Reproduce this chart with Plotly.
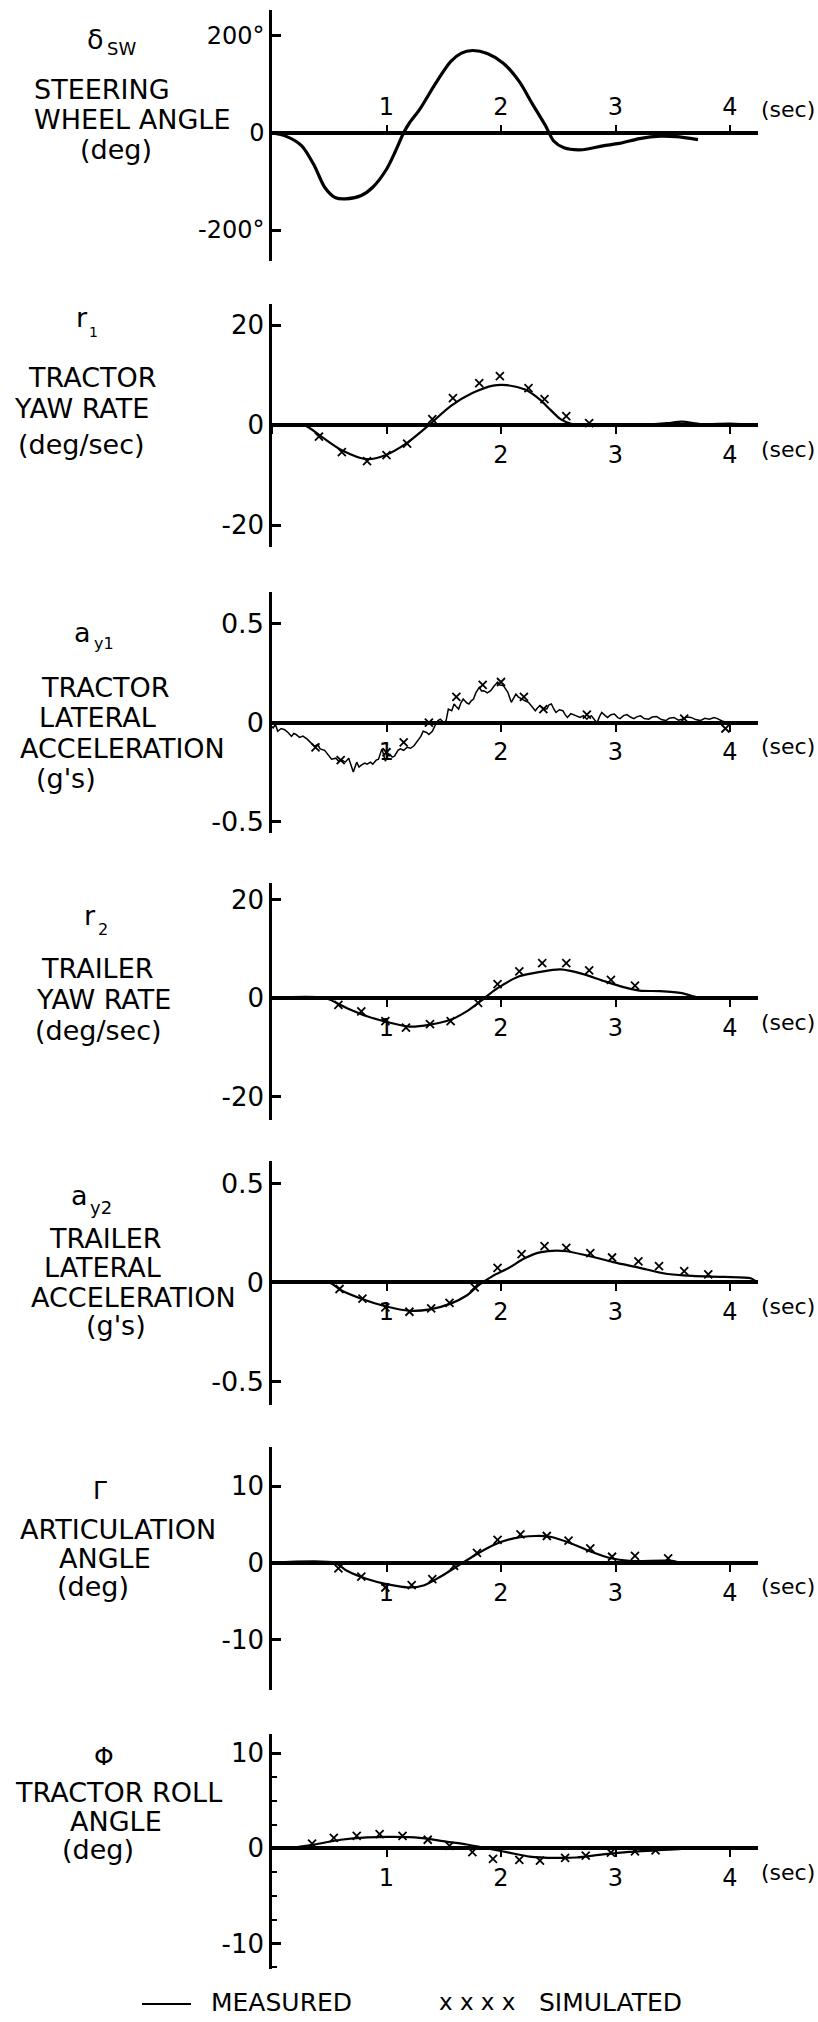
import plotly.graph_objects as go

# ---------------- data (time in seconds) ----------------
steer_t = [0, 0.12, 0.26, 0.37, 0.46, 0.55, 0.64, 0.78, 0.88, 1.0, 1.08, 1.15, 1.20, 1.29,
           1.43, 1.56, 1.65, 1.75, 1.88, 2.02, 2.16, 2.27, 2.39, 2.46, 2.55, 2.71, 2.89,
           3.03, 3.21, 3.39, 3.53, 3.72]
steer_deg = [0, -7, -27, -68, -112, -133, -136, -129, -112, -75, -37, 0, 20, 48,
             102, 146, 163, 169, 163, 143, 105, 61, 14, -17, -31, -35, -27,
             -22, -12, -7, -8, -14]

yaw1_t = [0, 0.28, 0.42, 0.61, 0.83, 0.99, 1.17, 1.38, 1.56, 1.75, 1.93, 2.05, 2.21,
          2.34, 2.43, 2.52, 2.62, 2.8, 3.2, 3.45, 3.58, 3.75, 4.0, 4.25]
yaw1_meas = [0, 0, -2.1, -5.0, -6.8, -6.0, -3.7, 0.2, 3.8, 6.4, 7.9, 8.0, 7.1,
             5.1, 3.1, 1.2, 0.2, 0, 0, 0.4, 0.7, 0.2, 0.3, 0]
yaw1_sim_t = [0.41, 0.61, 0.83, 1.00, 1.18, 1.40, 1.58, 1.81, 1.99, 2.24, 2.38, 2.57, 2.77]
yaw1_sim = [-2.3, -5.4, -7.2, -6.0, -3.7, 1.2, 5.4, 8.4, 9.8, 7.4, 5.2, 1.8, 0.4]

acc1_t = [0.00, 0.01, 0.03, 0.05, 0.08, 0.11, 0.14, 0.17, 0.19, 0.21, 0.24, 0.27, 0.31,
          0.34, 0.37, 0.40, 0.42, 0.46, 0.49, 0.52, 0.56, 0.58, 0.61, 0.64, 0.67, 0.69,
          0.71, 0.74, 0.76, 0.78, 0.81, 0.83, 0.86, 0.88, 0.91, 0.93, 0.96, 0.99, 1.01,
          1.03, 1.05, 1.07, 1.10, 1.12, 1.15, 1.18, 1.21, 1.24, 1.26, 1.28, 1.30, 1.32,
          1.35, 1.37, 1.40, 1.43, 1.45, 1.47, 1.50, 1.52, 1.54, 1.57, 1.59, 1.61, 1.63,
          1.65, 1.67, 1.70, 1.72, 1.74, 1.76, 1.78, 1.81, 1.83, 1.85, 1.88, 1.91, 1.94,
          1.97, 1.99, 2.02, 2.04, 2.06, 2.09, 2.11, 2.13, 2.15, 2.18, 2.21, 2.24, 2.27,
          2.30, 2.32, 2.34, 2.38, 2.40, 2.42, 2.44, 2.46, 2.48, 2.51, 2.54, 2.56, 2.58,
          2.61, 2.63, 2.66, 2.69, 2.72, 2.75, 2.77, 2.79, 2.82, 2.84, 2.86, 2.88, 2.91,
          2.93, 2.96, 2.99, 3.02, 3.04, 3.07, 3.10, 3.13, 3.16, 3.19, 3.22, 3.25, 3.29,
          3.32, 3.36, 3.40, 3.44, 3.47, 3.51, 3.55, 3.58, 3.62, 3.66, 3.70, 3.74, 3.78,
          3.82, 3.86, 3.89, 3.93, 3.96, 4.01]
acc1_meas = [-0.02, -0.027, -0.01, -0.044, -0.03, -0.036, -0.05, -0.07, -0.055, -0.06,
             -0.075, -0.068, -0.085, -0.10, -0.12, -0.11, -0.133, -0.14, -0.16, -0.185,
             -0.18, -0.195, -0.19, -0.20, -0.18, -0.22, -0.25, -0.20, -0.225, -0.215,
             -0.205, -0.21, -0.20, -0.21, -0.19, -0.185, -0.133, -0.195, -0.17, -0.16,
             -0.175, -0.17, -0.14, -0.133, -0.14, -0.125, -0.13, -0.117, -0.10, -0.085,
             -0.07, -0.044, -0.05, -0.06, -0.044, -0.008, 0.01, 0.017, 0.0, 0.009,
             0.068, 0.06, 0.094, 0.08, 0.068, 0.10, 0.119, 0.10, 0.094, 0.11,
             0.119, 0.15, 0.178, 0.16, 0.161, 0.15, 0.161, 0.185, 0.204, 0.19,
             0.187, 0.17, 0.153, 0.102, 0.12, 0.144, 0.13, 0.119, 0.11, 0.102,
             0.08, 0.06, 0.075, 0.085, 0.068, 0.068, 0.09, 0.094, 0.07, 0.051,
             0.065, 0.06, 0.04, 0.026, 0.045, 0.04, 0.03, 0.026, 0.035, 0.017,
             0.03, 0.034, 0.012, 0.0, 0.03, 0.051, 0.035, 0.026, 0.04, 0.043,
             0.025, 0.02, 0.035, 0.04, 0.028, 0.02, 0.03, 0.034, 0.02, 0.017,
             0.028, 0.03, 0.015, 0.01, 0.022, 0.026, 0.012, 0.017, 0.028, 0.026,
             0.015, 0.01, 0.022, 0.017, 0.025, 0.02, 0.008, 0.003, 0.0]
acc1_sim_t = [0.38, 0.60, 1.00, 1.15, 1.37, 1.61, 1.84, 2.00, 2.20, 2.37, 2.75, 3.60, 3.96]
acc1_sim = [-0.125, -0.19, -0.15, -0.10, 0.0, 0.13, 0.19, 0.205, 0.13, 0.068, 0.04, 0.02, -0.03]

yaw2_t = [0, 0.46, 0.65, 0.83, 1.01, 1.20, 1.38, 1.56, 1.70, 1.84, 1.97, 2.16, 2.34,
          2.52, 2.71, 2.89, 3.07, 3.21, 3.39, 3.58, 3.72, 4.0, 4.25]
yaw2_meas = [0, 0, -2.0, -3.7, -4.9, -5.8, -5.4, -4.4, -2.7, -0.3, 2.0, 4.4, 5.3,
             5.8, 4.9, 3.5, 2.2, 1.5, 1.4, 1.0, 0.1, 0, 0]
yaw2_sim_t = [0.58, 0.78, 0.99, 1.17, 1.38, 1.56, 1.80, 1.97, 2.16, 2.36, 2.57, 2.77, 2.96, 3.17]
yaw2_sim = [-1.4, -2.7, -4.7, -6.0, -5.3, -4.7, -1.0, 2.8, 5.4, 7.1, 7.1, 5.6, 3.7, 2.5]

acc2_t = [0, 0.50, 0.60, 0.78, 0.99, 1.20, 1.38, 1.56, 1.70, 1.80, 1.93, 2.07, 2.21,
          2.34, 2.55, 2.75, 2.98, 3.21, 3.44, 3.67, 3.95, 4.18, 4.22]
acc2_meas = [0, 0, -0.038, -0.082, -0.12, -0.143, -0.136, -0.107, -0.066, -0.016, 0.033,
             0.074, 0.123, 0.152, 0.159, 0.136, 0.103, 0.074, 0.044, 0.033, 0.028, 0.021, 0.008]
acc2_sim_t = [0.59, 0.79, 0.99, 1.20, 1.39, 1.55, 1.77, 1.97, 2.18, 2.38, 2.57, 2.78,
              2.97, 3.20, 3.38, 3.60, 3.81]
acc2_sim = [-0.033, -0.082, -0.126, -0.148, -0.131, -0.103, -0.025, 0.074, 0.143, 0.184,
            0.175, 0.148, 0.126, 0.107, 0.082, 0.057, 0.041]

artic_t = [0, 0.55, 0.65, 0.83, 1.01, 1.20, 1.33, 1.47, 1.61, 1.75, 1.93, 2.11, 2.30,
           2.43, 2.62, 2.80, 2.96, 3.12, 3.49, 3.58, 4.24]
artic_meas = [0, 0, -1.0, -2.1, -2.8, -3.2, -2.9, -1.8, -0.5, 0.8, 2.3, 3.2, 3.5,
              3.4, 2.5, 1.4, 0.6, 0.26, 0.26, 0, 0]
artic_sim_t = [0.58, 0.78, 0.99, 1.22, 1.40, 1.59, 1.79, 1.97, 2.17, 2.40, 2.59, 2.78,
               2.97, 3.17, 3.46]
artic_sim = [-0.7, -1.8, -3.2, -2.9, -2.1, -0.4, 1.3, 3.0, 3.7, 3.5, 2.9, 1.9, 0.8, 0.9, 0.6]

roll_t = [0, 0.19, 0.37, 0.60, 0.83, 1.06, 1.29, 1.52, 1.70, 1.88, 2.07, 2.25, 2.48,
          2.66, 2.89, 3.12, 3.35, 3.58, 4.0, 4.22]
roll_meas = [0, 0.1, 0.4, 0.9, 1.15, 1.2, 1.1, 0.7, 0.4, 0.0, -0.45, -0.86, -1.0,
             -0.96, -0.64, -0.38, -0.22, -0.06, 0, 0]
roll_sim_t = [0.35, 0.54, 0.74, 0.94, 1.14, 1.36, 1.55, 1.75, 1.93, 2.16, 2.34, 2.56,
              2.74, 2.96, 3.17, 3.35]
roll_sim = [0.5, 1.1, 1.3, 1.5, 1.3, 0.9, 0.26, -0.4, -1.1, -1.2, -1.3, -1.0, -0.77,
            -0.45, -0.32, -0.22]

time_ticks = [1, 2, 3, 4]
time_labels = ["1", "2", "3", "4"]

# ---------------- page geometry (pixels) ----------------
W, H = 818, 2022
X0_PX = 272          # x pixel of t = 0
SEC_PX = 114.5       # pixels per second
T_MAX = 4.245
FONT = "DejaVu Sans"
INK = "black"

# label pieces: (text, left px, centre px, font size)
panels = [
    dict(meas=(steer_t, steer_deg), sim=None, top=10, bottom=262, zero=133,
         tick=200, tick_span=195, ylab=["-200°", "0", "200°"], ysize=24,
         label_one=True, lw=3.2, shape="spline", side="top",
         labels=[("δ", 85, 40, 27), ("SW", 105, 49, 18), ("STEERING", 32, 90, 27),
                 ("WHEEL ANGLE", 32, 120, 27), ("(deg)", 78, 150, 27)]),
    dict(meas=(yaw1_t, yaw1_meas), sim=(yaw1_sim_t, yaw1_sim), top=305, bottom=548,
         zero=426, tick=20, tick_span=200.7, ylab=["-20", "0", "20"], ysize=26,
         label_one=False, lw=2.2, shape="spline", side="bottom",
         labels=[("r", 74, 318, 27), ("1", 87, 333, 14), ("TRACTOR", 26, 378, 27),
                 ("YAW RATE", 12, 409, 27), ("(deg/sec)", 16, 445, 27)]),
    dict(meas=(acc1_t, acc1_meas), sim=(acc1_sim_t, acc1_sim), top=593, bottom=835,
         zero=724, tick=0.5, tick_span=198.3, ylab=["-0.5", "0", "0.5"], ysize=27,
         label_one=True, lw=1.5, shape="linear", side="bottom",
         labels=[("a", 72, 634, 27), ("y1", 92, 645, 16), ("TRACTOR", 39, 689, 27),
                 ("LATERAL", 37, 719, 27), ("ACCELERATION", 18, 750, 27),
                 ("(g's)", 34, 780, 27)]),
    dict(meas=(yaw2_t, yaw2_meas), sim=(yaw2_sim_t, yaw2_sim), top=885, bottom=1122,
         zero=1000, tick=20, tick_span=197.6, ylab=["-20", "0", "20"], ysize=26,
         label_one=True, lw=2.2, shape="spline", side="bottom",
         labels=[("r", 82, 917, 27), ("2", 96, 931, 16), ("TRAILER", 39, 970, 27),
                 ("YAW RATE", 34, 1001, 27), ("(deg/sec)", 33, 1033, 27)]),
    dict(meas=(acc2_t, acc2_meas), sim=(acc2_sim_t, acc2_sim), top=1163, bottom=1408,
         zero=1285, tick=0.5, tick_span=198.4, ylab=["-0.5", "0", "0.5"], ysize=27,
         label_one=True, lw=2.2, shape="spline", side="bottom",
         labels=[("a", 69, 1198, 27), ("y2", 88, 1210, 18), ("TRAILER", 47, 1241, 27),
                 ("LATERAL", 42, 1270, 27), ("ACCELERATION", 29, 1300, 27),
                 ("(g's)", 84, 1328, 27)]),
    dict(meas=(artic_t, artic_meas), sim=(artic_sim_t, artic_sim), top=1450, bottom=1693,
         zero=1566, tick=10, tick_span=154, ylab=["-10", "0", "10"], ysize=26,
         label_one=True, lw=2.2, shape="spline", side="bottom",
         labels=[("Γ", 91, 1493, 25), ("ARTICULATION", 18, 1533, 27),
                 ("ANGLE", 57, 1562, 27), ("(deg)", 55, 1590, 27)]),
    dict(meas=(roll_t, roll_meas), sim=(roll_sim_t, roll_sim), top=1737, bottom=1973,
         zero=1852, tick=10, tick_span=191, ylab=["-10", "0", "10"], ysize=26,
         label_one=True, lw=2.2, shape="spline", side="bottom", minor=2.5,
         labels=[("Φ", 92, 1760, 25), ("TRACTOR ROLL", 13, 1796, 27),
                 ("ANGLE", 68, 1825, 27), ("(deg)", 60, 1853, 27)]),
]

fig = go.Figure()
annotations = []
layout_axes = {}

for i, p in enumerate(panels, start=1):
    xn = "x" if i == 1 else f"x{i}"
    yn = "y" if i == 1 else f"y{i}"
    xkey = "xaxis" if i == 1 else f"xaxis{i}"
    ykey = "yaxis" if i == 1 else f"yaxis{i}"

    ppu = p["tick_span"] / (2 * p["tick"])
    y_hi = (p["zero"] - p["top"]) / ppu
    y_lo = -(p["bottom"] - p["zero"]) / ppu

    t, v = p["meas"]
    fig.add_trace(go.Scatter(
        x=t, y=v, mode="lines", xaxis=xn, yaxis=yn, showlegend=False,
        line=dict(color=INK, width=p["lw"], shape=p["shape"], smoothing=0.8),
        hoverinfo="skip"))
    if p["sim"] is not None:
        st, sv = p["sim"]
        fig.add_trace(go.Scatter(
            x=st, y=sv, mode="markers", xaxis=xn, yaxis=yn, showlegend=False,
            marker=dict(symbol="x-thin", size=8, line=dict(width=1.8, color=INK)),
            hoverinfo="skip"))

    xax = dict(
        domain=[X0_PX / W, (X0_PX + T_MAX * SEC_PX) / W], range=[0, T_MAX],
        anchor="free", position=1 - p["zero"] / H, side=p["side"],
        showgrid=False, zeroline=False, showline=False,
        ticks="outside", ticklen=8, tickwidth=2, tickcolor=INK,
        tickfont=dict(family=FONT, size=24, color=INK), fixedrange=True)
    if p["label_one"]:
        xax.update(tickvals=time_ticks, ticktext=time_labels)
    else:
        # the 1 s mark carries no number on this panel
        xax.update(tickvals=time_ticks[1:], ticktext=time_labels[1:],
                   minor=dict(dtick=1, tick0=0, ticks="outside", ticklen=8,
                              tickwidth=2, tickcolor=INK, showgrid=False))
    layout_axes[xkey] = xax

    yax = dict(
        domain=[1 - p["bottom"] / H, 1 - p["top"] / H], range=[y_lo, y_hi],
        anchor=xn, showgrid=False,
        zeroline=True, zerolinewidth=3.5, zerolinecolor=INK,
        showline=True, linewidth=2.5, linecolor=INK,
        ticks="inside", ticklen=9, tickwidth=2.5, tickcolor=INK,
        tickvals=[-p["tick"], 0, p["tick"]], ticktext=p["ylab"],
        tickfont=dict(family=FONT, size=p["ysize"], color=INK), fixedrange=True)
    if "minor" in p:
        yax["minor"] = dict(dtick=p["minor"], tick0=0, ticks="inside", ticklen=5,
                            tickwidth=2, tickcolor=INK, showgrid=False)
    layout_axes[ykey] = yax

    # "(sec)" unit label at the end of the time axis
    annotations.append(dict(
        text="(sec)", xref=xn, yref=yn, x=T_MAX, y=0, xanchor="left", yanchor="middle",
        xshift=1, yshift=23 if p["side"] == "top" else -24, showarrow=False,
        font=dict(family=FONT, size=22, color=INK)))

    # quantity name on the left
    for text, left_px, cy_px, size in p["labels"]:
        annotations.append(dict(
            text=text, xref="paper", yref="paper", x=left_px / W, y=1 - cy_px / H,
            xanchor="left", yanchor="middle", showarrow=False,
            font=dict(family=FONT, size=size, color=INK)))

# key at the bottom
LEG_Y = 2006
annotations += [
    dict(text="MEASURED", xref="paper", yref="paper", x=209 / W, y=1 - LEG_Y / H,
         xanchor="left", yanchor="middle", showarrow=False,
         font=dict(family=FONT, size=25, color=INK)),
    dict(text="x x x x", xref="paper", yref="paper", x=437 / W, y=1 - LEG_Y / H,
         xanchor="left", yanchor="middle", showarrow=False,
         font=dict(family=FONT, size=23, color=INK)),
    dict(text="SIMULATED", xref="paper", yref="paper", x=537 / W, y=1 - LEG_Y / H,
         xanchor="left", yanchor="middle", showarrow=False,
         font=dict(family=FONT, size=25, color=INK)),
]
shapes = [dict(type="line", xref="paper", yref="paper", x0=142 / W, x1=191 / W,
               y0=1 - (LEG_Y + 2) / H, y1=1 - (LEG_Y + 2) / H,
               line=dict(color=INK, width=2))]

fig.update_layout(
    width=W, height=H, margin=dict(l=0, r=0, t=0, b=0),
    paper_bgcolor="white", plot_bgcolor="white",
    showlegend=False, annotations=annotations, shapes=shapes,
    font=dict(family=FONT, color=INK), **layout_axes)

fig.write_html("out.html", config={"displayModeBar": False})
